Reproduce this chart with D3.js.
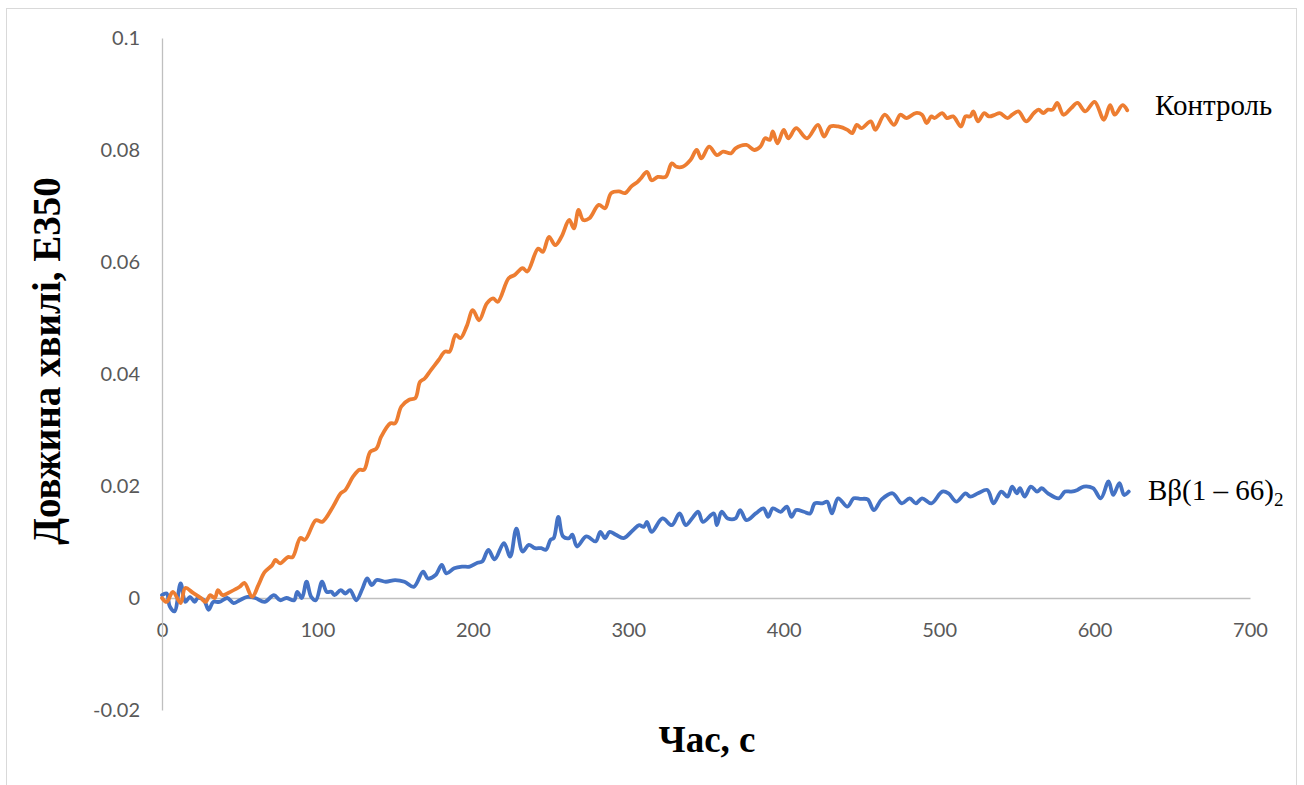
<!DOCTYPE html>
<html>
<head>
<meta charset="utf-8">
<script src="https://cdn.jsdelivr.net/npm/d3@7"></script>
<style>
  html, body { margin: 0; padding: 0; background: #fff; }
  svg { display: block; }
</style>
</head>
<body>
<svg id="chart" width="1304" height="785"></svg>
<script>
// Absorbance at 350 nm over time: control vs Bβ(1–66)₂
const controlTime = [0,3,7,12,15,20,25,28,31,34,36,39,44,50,53,58,62,66,71,73,76,81,84,89,92,99,103,110,115,118,123,127,130,134,138,141,147,150,154,159,163,166,169,173,178,182,185,189,192,196,200,204,209,213,216,223,227,232,235,242,245,249,253,257,262,265,268,271,275,281,285,289,294,298,302,306,308,312,315,319,324,328,331,335,340,344,347,352,357,361,366,369,376,381,385,388,391,393,396,400,403,408,415,422,426,430,435,441,444,447,450,456,459,465,471,475,479,485,489,492,495,497,502,505,509,514,517,520,522,525,529,532,536,539,544,547,551,556,561,564,567,570,573,576,580,585,589,594,600,606,610,613,618,621];
const controlValue = [0,-0.0007,0.0011,-0.0009,0.0018,0.0009,0,-0.0007,0.0005,0,0.0014,0.0005,0.0011,0.002,0.0027,0.0002,0.0023,0.0046,0.0059,0.0068,0.0062,0.0073,0.0073,0.0107,0.0104,0.0139,0.0136,0.0163,0.0187,0.0193,0.0217,0.0229,0.0229,0.0261,0.0267,0.0288,0.0312,0.0312,0.0342,0.0354,0.0357,0.0386,0.0392,0.0407,0.0425,0.044,0.044,0.047,0.0464,0.0485,0.0514,0.0496,0.0526,0.0535,0.0529,0.0571,0.0577,0.0589,0.0583,0.0624,0.0618,0.0645,0.063,0.0645,0.0675,0.066,0.0693,0.0675,0.0678,0.0702,0.0696,0.0723,0.0726,0.0723,0.0735,0.0743,0.0749,0.0761,0.0746,0.0752,0.0752,0.0776,0.077,0.077,0.0782,0.08,0.0785,0.0806,0.0791,0.0797,0.0794,0.0803,0.0809,0.08,0.0806,0.0821,0.0818,0.0833,0.0812,0.0836,0.0821,0.0839,0.0821,0.0845,0.0824,0.0842,0.0842,0.0836,0.083,0.0845,0.0839,0.0851,0.0836,0.0863,0.0845,0.0863,0.0857,0.0866,0.0863,0.0848,0.086,0.0857,0.0866,0.0857,0.086,0.0842,0.086,0.086,0.0869,0.0851,0.0866,0.086,0.0863,0.0866,0.0857,0.0863,0.0869,0.0851,0.0866,0.0872,0.0866,0.0872,0.0872,0.0884,0.0863,0.0875,0.0884,0.0869,0.0886,0.0854,0.088,0.0863,0.088,0.0871];

const peptideTime = [0,3,5,8,12,15,18,21,23,27,30,33,37,42,46,50,55,60,66,72,76,80,85,87,90,93,96,99,103,106,109,111,115,118,121,125,129,132,135,138,144,150,156,162,168,171,176,180,183,188,193,198,203,206,210,214,220,224,228,232,236,240,244,247,250,252,255,258,262,264,267,273,279,282,285,288,292,297,303,307,310,312,315,322,328,333,337,341,345,348,355,357,360,364,369,372,376,382,387,390,393,398,402,405,408,413,417,420,425,428,431,435,441,445,449,454,458,463,470,476,481,485,489,495,502,506,511,517,520,525,531,535,540,544,547,550,552,555,559,563,566,570,577,581,585,589,593,599,604,609,612,616,619,622];
const peptideValue = [0.0005,0.0008,-0.0015,-0.0024,0.0026,-0.0007,0.0002,-0.0007,0,-0.0004,-0.0021,-0.0007,-0.0007,0,-0.0009,-0.0004,0.0002,0,-0.0007,0.0005,-0.0004,0,-0.0004,0.0011,0,0.0029,0.0002,-0.0004,0.0029,0.0011,0.0011,0.0005,0.0014,0.0008,0.0014,-0.0004,0.0017,0.0035,0.0023,0.0032,0.0029,0.0032,0.0029,0.002,0.0047,0.0035,0.0041,0.0059,0.0044,0.0053,0.0056,0.0056,0.0063,0.0065,0.0086,0.0069,0.0098,0.0074,0.0124,0.0083,0.0095,0.0089,0.0089,0.0086,0.0104,0.0107,0.0145,0.011,0.0107,0.0113,0.0092,0.011,0.0101,0.0118,0.0107,0.0118,0.0113,0.0107,0.0121,0.013,0.0127,0.0136,0.0118,0.0142,0.013,0.0151,0.013,0.0142,0.0154,0.0136,0.0151,0.013,0.0154,0.0142,0.0142,0.0157,0.0139,0.0151,0.016,0.0145,0.016,0.0154,0.0163,0.0145,0.0157,0.0154,0.0151,0.0169,0.0169,0.0172,0.0151,0.0178,0.0163,0.0178,0.0177,0.0176,0.0157,0.0176,0.0187,0.0169,0.0178,0.0169,0.0178,0.0169,0.019,0.0187,0.0172,0.0187,0.0181,0.0187,0.0193,0.0169,0.019,0.0181,0.0199,0.0187,0.0196,0.0181,0.0199,0.019,0.0196,0.0187,0.0178,0.019,0.019,0.0193,0.0199,0.0196,0.0178,0.0208,0.0184,0.0205,0.0184,0.019];

const xTickValues = [0,100,200,300,400,500,600,700];
const xTickLabels = ["0","100","200","300","400","500","600","700"];
const yTickValues = [-0.02,0,0.02,0.04,0.06,0.08,0.1];
const yTickLabels = ["-0.02","0","0.02","0.04","0.06","0.08","0.1"];

const seriesNames = ["Контроль", "Bβ(1 – 66)"];
const xTitle = "Час, с";
const yTitle = "Довжина хвилі, Е350";

const svg = d3.select("#chart");

// chart frame
svg.append("rect")
  .attr("x", 6.5).attr("y", 8.5)
  .attr("width", 1290).attr("height", 800)
  .attr("fill", "#fff")
  .attr("stroke", "#D9D9D9")
  .attr("stroke-width", 1);

const x = d3.scaleLinear().domain([0, 700]).range([162, 1250]);
const y = d3.scaleLinear().domain([-0.02, 0.1]).range([710, 38]);

const tickFont = "Lato, 'Open Sans', sans-serif";

// x axis along y = 0
const gx = svg.append("g")
  .attr("transform", `translate(0,${y(0)})`)
  .call(d3.axisBottom(x)
    .tickValues(xTickValues)
    .tickFormat((d, i) => xTickLabels[i])
    .tickSize(0).tickSizeOuter(0).tickPadding(25));
gx.select(".domain").attr("stroke", "#BFBFBF").attr("stroke-width", 1.3);
gx.selectAll("text")
  .attr("font-family", tickFont).attr("font-size", 20).attr("fill", "#595959");

// y axis along x = 0
const gy = svg.append("g")
  .attr("transform", `translate(${x(0)},0)`)
  .call(d3.axisLeft(y)
    .tickValues(yTickValues)
    .tickFormat((d, i) => yTickLabels[i])
    .tickSize(0).tickSizeOuter(0).tickPadding(22));
gy.select(".domain").attr("stroke", "#BFBFBF").attr("stroke-width", 1.3);
gy.selectAll("text")
  .attr("font-family", tickFont).attr("font-size", 20).attr("fill", "#595959");

const line = d3.line()
  .x(d => x(d[0]))
  .y(d => y(d[1]))
  .curve(d3.curveCatmullRom.alpha(0.5));

const controlData = controlTime.map((t, i) => [t, controlValue[i]]);
const peptideData = peptideTime.map((t, i) => [t, peptideValue[i]]);

svg.append("path")
  .datum(peptideData)
  .attr("d", line)
  .attr("fill", "none")
  .attr("stroke", "#4472C4")
  .attr("stroke-width", 3.8)
  .attr("stroke-linejoin", "round")
  .attr("stroke-linecap", "round");

svg.append("path")
  .datum(controlData)
  .attr("d", line)
  .attr("fill", "none")
  .attr("stroke", "#ED7D31")
  .attr("stroke-width", 3.8)
  .attr("stroke-linejoin", "round")
  .attr("stroke-linecap", "round");

// series labels at line ends
const serif = "'Liberation Serif', 'Times New Roman', serif";
svg.append("text")
  .attr("x", 1155).attr("y", 115)
  .attr("font-family", serif).attr("font-size", 29).attr("fill", "#000")
  .text(seriesNames[0]);

const lbl = svg.append("text")
  .attr("x", 1148).attr("y", 500)
  .attr("font-family", serif).attr("font-size", 29).attr("fill", "#000");
lbl.append("tspan").text(seriesNames[1]);
lbl.append("tspan").attr("font-size", 19).attr("dy", 6).text("2");

// axis titles
svg.append("text")
  .attr("x", 707).attr("y", 752)
  .attr("text-anchor", "middle")
  .attr("font-family", serif).attr("font-weight", "bold").attr("font-size", 37)
  .text(xTitle);

svg.append("text")
  .attr("transform", `translate(60,361) rotate(-90)`)
  .attr("text-anchor", "middle")
  .attr("font-family", serif).attr("font-weight", "bold").attr("font-size", 39)
  .text(yTitle);
</script>
</body>
</html>
